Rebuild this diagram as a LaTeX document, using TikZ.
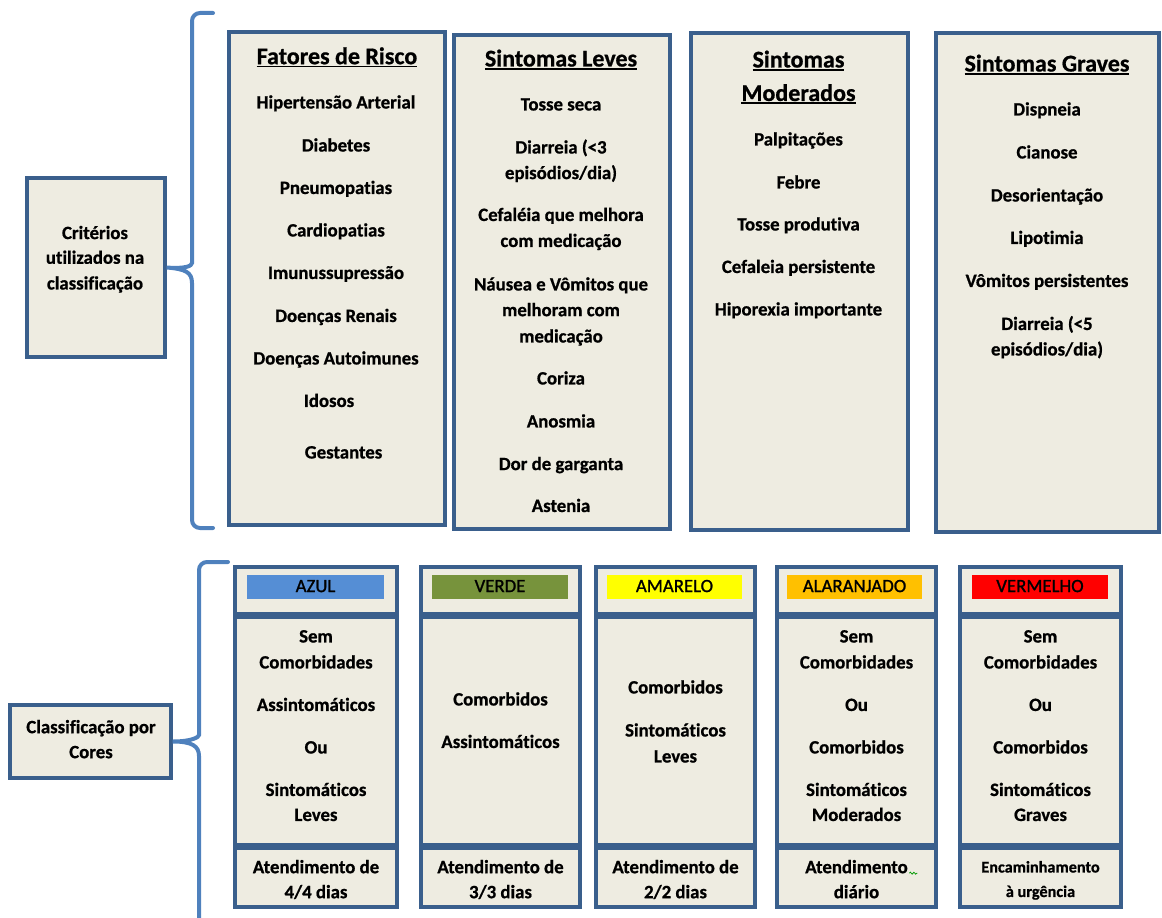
\documentclass[tikz,border=0pt]{standalone}
\usepackage{fontspec}
\setmainfont{Carlito}[Ligatures=NoCommon,BoldFeatures={FakeBold=0.8}]
\newfontfamily\hdrfont{Carlito}[Ligatures=NoCommon,FakeBold=1.2]
\usetikzlibrary{fit,decorations.pathmorphing}
\definecolor{boxf}{HTML}{EEECE1}
\definecolor{boxd}{HTML}{3A5F8C}
\definecolor{brc}{HTML}{4F81BD}
\definecolor{cAz}{HTML}{558ED5}
\definecolor{cVe}{HTML}{77933C}
\definecolor{cAm}{HTML}{FFFF00}
\definecolor{cAl}{HTML}{FFC000}
\definecolor{cVm}{HTML}{FF0000}
\newcommand\myul[1]{\setbox0\hbox{#1}\rlap{\rule[-2.4pt]{\wd0}{1.3pt}}\box0}
\begin{document}
\begin{tikzpicture}[x=0.75pt,y=-0.75pt,
  box/.style={draw=boxd,fill=boxf,line width=2.5pt,inner sep=0pt},
  bar/.style={inner sep=0pt,draw=none},
  txt/.style={anchor=base,inner sep=0pt,yshift=-1.1pt,font=\bfseries\fontsize{14.1}{17}\selectfont},
  ttl/.style={anchor=base,inner sep=0pt,yshift=-1.1pt,font=\bfseries\fontsize{18}{21}\selectfont},
  hdr/.style={anchor=base,inner sep=0pt,yshift=-0.8pt,font=\hdrfont\fontsize{14.1}{17}\selectfont},
  sml/.style={anchor=base,inner sep=0pt,yshift=-1.1pt,font=\bfseries\fontsize{12.2}{15}\selectfont},
  brace/.style={draw=brc,line width=3pt,line cap=round}]
\useasboundingbox (0,0) rectangle (1162,917);

% ---------- upper section ----------
\node[box,fit={(27,178)(165,357)}] (crit) {};
\node[txt] (cr1) at (95,237.6) {Critérios};
\node[txt] (cr2) at (95,262.3) {utilizados na};
\node[txt] (cr3) at (95,288) {classificação};

\node[box,fit={(229,32)(445,525)}] (fat) {};
\node[box,fit={(454,35)(670,529)}] (lev) {};
\node[box,fit={(691,33)(908,530)}] (mod) {};
\node[box,fit={(936,33)(1159,532)}] (gra) {};

\draw[brace] (213,13) [rounded corners=6pt] -- (192,13) -- (192,255) [sharp corners]
  .. controls (192,266) and (185,269) .. (crit.east)
  .. controls (185,269) and (192,272) .. (192,283) [rounded corners=6pt] -- (192,528) -- (213,528);

% Fatores de Risco
\node[ttl] (ft) at (337,62.7) {\myul{Fatores de Risco}};
\node[txt] (f1) at (336,107) {Hipertensão Arterial};
\node[txt] (f2) at (336,150) {Diabetes};
\node[txt] (f3) at (336,192.5) {Pneumopatias};
\node[txt] (f4) at (336,235) {Cardiopatias};
\node[txt] (f5) at (336,277.5) {Imunussupressão};
\node[txt] (f6) at (336,320.5) {Doenças Renais};
\node[txt] (f7) at (336,363) {Doenças Autoimunes};
\node[txt] (f8) at (329,405.5) {Idosos};
\node[txt] (f9) at (343.5,457) {Gestantes};

% Sintomas Leves
\node[ttl] (lt) at (561,65) {\myul{Sintomas Leves}};
\node[txt] (l1) at (561,109) {Tosse seca};
\node[txt] (l2) at (561,152) {Diarreia (<3};
\node[txt] (l3) at (561,177.6) {episódios/dia)};
\node[txt] (l4) at (561,219.5) {Cefaléia que melhora};
\node[txt] (l5) at (561,245.5) {com medicação};
\node[txt] (l6) at (561,289) {Náusea e Vômitos que};
\node[txt] (l7) at (561,314.7) {melhoram com};
\node[txt] (l8) at (561,341) {medicação};
\node[txt] (l9) at (561,383) {Coriza};
\node[txt] (l10) at (561,426) {Anosmia};
\node[txt] (l11) at (561,468.6) {Dor de garganta};
\node[txt] (l12) at (561,510.5) {Astenia};

% Sintomas Moderados
\node[ttl] (mt1) at (798.5,66) {\myul{Sintomas}};
\node[ttl] (mt2) at (798.5,99.5) {\myul{Moderados}};
\node[txt] (m1) at (798.5,144) {Palpitações};
\node[txt] (m2) at (798.5,187) {Febre};
\node[txt] (m3) at (798.5,229) {Tosse produtiva};
\node[txt] (m4) at (798.5,271.5) {Cefaleia persistente};
\node[txt] (m5) at (798.5,314) {Hiporexia importante};

% Sintomas Graves
\node[ttl] (gt) at (1047,70) {\myul{Sintomas Graves}};
\node[txt] (g1) at (1047,114) {Dispneia};
\node[txt] (g2) at (1047,157) {Cianose};
\node[txt] (g3) at (1047,200) {Desorientação};
\node[txt] (g4) at (1047,242.5) {Lipotimia};
\node[txt] (g5) at (1047,285.5) {Vômitos persistentes};
\node[txt] (g6) at (1047,328.5) {Diarreia (<5};
\node[txt] (g7) at (1047,354) {episódios/dia)};

% ---------- lower section ----------
\node[box,fit={(10,705)(171,778)}] (cls) {};
\node[txt] (cl1) at (91,731.7) {Classificação por};
\node[txt] (cl2) at (91,756.7) {Cores};

\draw[brace] (228,562) [rounded corners=6pt] -- (199,562) -- (199,727) [sharp corners]
  .. controls (199,737) and (192,741.5) .. (cls.east)
  .. controls (192,741.5) and (199,746) .. (199,756) -- (199,920);

\foreach \c/\L/\R/\bl/\br/\col/\lab in {az/235/397/247/384/cAz/AZUL, ve/421/580/432/568/cVe/VERDE, am/596/755/607/742/cAm/AMARELO, al/777/936/787/922/cAl/ALARANJADO, vm/960/1121/972/1108/cVm/VERMELHO}{
  \node[box,fit={(\L,567)(\R,614)}] (\c h) {};
  \node[box,fit={(\L,617)(\R,845)}] (\c b) {};
  \node[box,fit={(\L,848)(\R,907)}] (\c f) {};
  \node[bar,fill=\col,fit={(\bl,575)(\br,599)}] (\c c) {};
  \node[hdr] (\c l) at ({(\bl+\br)/2},591) {\lab};
}

% AZUL
\node[txt] (a1) at (316,641) {Sem};
\node[txt] (a2) at (316,667) {Comorbidades};
\node[txt] (a3) at (316,709.5) {Assintomáticos};
\node[txt] (a4) at (316,752) {Ou};
\node[txt] (a5) at (316,794.5) {Sintomáticos};
\node[txt] (a6) at (316,819.5) {Leves};
\node[txt] (a7) at (316,871.7) {Atendimento de};
\node[txt] (a8) at (316,896.7) {4/4 dias};

% VERDE
\node[txt] (v1) at (500.5,704) {Comorbidos};
\node[txt] (v2) at (500.5,746.5) {Assintomáticos};
\node[txt] (v3) at (500.5,871.7) {Atendimento de};
\node[txt] (v4) at (500.5,896.7) {3/3 dias};

% AMARELO
\node[txt] (y1) at (675.5,692) {Comorbidos};
\node[txt] (y2) at (675.5,735) {Sintomáticos};
\node[txt] (y3) at (675.5,761) {Leves};
\node[txt] (y4) at (675.5,871.7) {Atendimento de};
\node[txt] (y5) at (675.5,896.7) {2/2 dias};

% ALARANJADO
\node[txt] (o1) at (856.5,641) {Sem};
\node[txt] (o2) at (856.5,667) {Comorbidades};
\node[txt] (o3) at (856.5,709.5) {Ou};
\node[txt] (o4) at (856.5,752) {Comorbidos};
\node[txt] (o5) at (856.5,794.5) {Sintomáticos};
\node[txt] (o6) at (856.5,819.5) {Moderados};
\node[txt] (o7) at (856.5,871.7) {Atendimento};
\node[txt] (o8) at (856.5,896.7) {diário};
\draw[green!60!black,line width=0.6pt,decorate,decoration={snake,amplitude=0.7pt,segment length=2.6pt}] ([xshift=1pt]o7.base east) -- ++(8,0);

% VERMELHO
\node[txt] (r1) at (1040.5,641) {Sem};
\node[txt] (r2) at (1040.5,667) {Comorbidades};
\node[txt] (r3) at (1040.5,709.5) {Ou};
\node[txt] (r4) at (1040.5,752) {Comorbidos};
\node[txt] (r5) at (1040.5,794.5) {Sintomáticos};
\node[txt] (r6) at (1040.5,819.5) {Graves};
\node[sml] (r7) at (1040.5,871) {Encaminhamento};
\node[sml] (r8) at (1040.5,895.5) {à urgência};
\end{tikzpicture}
\end{document}
